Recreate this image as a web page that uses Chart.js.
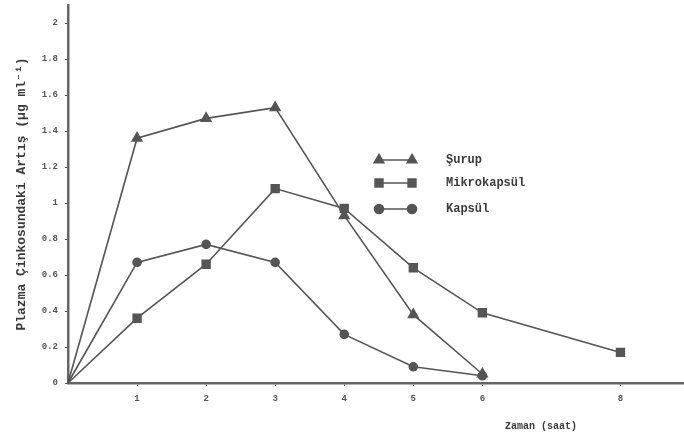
<!DOCTYPE html>
<html>
<head>
<meta charset="utf-8">
<script src="https://cdn.jsdelivr.net/npm/chart.js@4"></script>
<style>
  html, body { margin: 0; padding: 0; background: #ffffff; overflow: hidden; }
  canvas { display: block; }
</style>
</head>
<body>
<canvas id="chart" width="684" height="441"></canvas>
<script>
// ── Data ──────────────────────────────────────────────────────
const hours       = [0, 1, 2, 3, 4, 5, 6, 8];
const surup       = [0, 1.36, 1.47, 1.53, 0.93, 0.38, 0.05];
const mikrokapsul = [0, 0.36, 0.66, 1.08, 0.97, 0.64, 0.39, 0.17];
const kapsul      = [0, 0.67, 0.77, 0.67, 0.27, 0.09, 0.04];

const xTicks      = [1, 2, 3, 4, 5, 6, 8];
const yTicks      = [0, 0.2, 0.4, 0.6, 0.8, 1, 1.2, 1.4, 1.6, 1.8, 2];
const yTickLabels = ['0', '0.2', '0.4', '0.6', '0.8', '1', '1.2', '1.4', '1.6', '1.8', '2'];

const seriesNames = ['Şurup', 'Mikrokapsül', 'Kapsül'];

const INK = '#555555';
const MONO = '"Liberation Mono", "DejaVu Sans Mono", monospace';

const toPoints = (vals) => vals.map((v, i) => ({ x: hours[i], y: v }));

// ── Legend + x title drawn on top ─────────────────────────────
const overlay = {
  id: 'overlay',
  afterDraw(chart) {
    const { ctx } = chart;
    const rows = [
      { y: 160, style: 'triangle', r: 5.5 },
      { y: 183, style: 'rect', r: 5.5 },
      { y: 209, style: 'circle', r: 4.5 },
    ];
    ctx.save();
    rows.forEach((row, i) => {
      ctx.strokeStyle = INK;
      ctx.fillStyle = INK;
      ctx.lineWidth = 1.6;
      ctx.beginPath();
      ctx.moveTo(379, row.y);
      ctx.lineTo(412, row.y);
      ctx.stroke();
      [379, 412].forEach(px => {
        Chart.helpers.drawPoint(ctx, { pointStyle: row.style, radius: row.r, rotation: 0, borderWidth: 1 }, px, row.y);
      });
      ctx.fillStyle = '#3a3a3a';
      ctx.font = `bold 12px ${MONO}`;
      ctx.textBaseline = 'middle';
      ctx.textAlign = 'left';
      ctx.fillText(seriesNames[i], 446, row.y);
    });
    // x axis title
    ctx.fillStyle = '#3a3a3a';
    ctx.font = `bold 10px ${MONO}`;
    ctx.textAlign = 'center';
    ctx.fillText('Zaman (saat)', 541, 426);
    ctx.restore();
  },
};

function dataset(label, vals, style, r) {
  return {
    label,
    data: toPoints(vals),
    borderColor: INK,
    backgroundColor: INK,
    borderWidth: 1.6,
    pointStyle: style,
    // the origin has no marker in the original
    pointRadius: c => (c.dataIndex === 0 ? 0 : r),
    pointHoverRadius: c => (c.dataIndex === 0 ? 0 : r),
    pointBackgroundColor: INK,
    pointBorderColor: INK,
    tension: 0,
    clip: false,
  };
}

new Chart(document.getElementById('chart'), {
  type: 'line',
  data: {
    datasets: [
      dataset('Şurup', surup, 'triangle', 5.5),
      dataset('Mikrokapsül', mikrokapsul, 'rect', 5.5),
      dataset('Kapsül', kapsul, 'circle', 4),
    ],
  },
  options: {
    responsive: false,
    animation: false,
    devicePixelRatio: 1,
    layout: { autoPadding: false, padding: { top: 5, right: 0, left: 0, bottom: 0 } },
    plugins: { legend: { display: false }, tooltip: { enabled: false } },
    scales: {
      x: {
        type: 'linear', min: 0, max: 8.92,
        afterBuildTicks: s => { s.ticks = xTicks.map(v => ({ value: v })); },
        afterFit: s => { s.height = 58; s.paddingLeft = 0; s.paddingRight = 0; },
        ticks: { color: INK, font: { family: MONO, size: 9, weight: 'bold' }, padding: 7, maxRotation: 0 },
        grid: { drawOnChartArea: false, tickLength: 3, color: INK, lineWidth: 1 },
        border: { display: true, color: '#666666', width: 2.5 },
      },
      y: {
        min: 0, max: 2.1,
        afterBuildTicks: s => { s.ticks = yTicks.map(v => ({ value: v })); },
        afterFit: s => { s.width = 68; s.paddingTop = 0; s.paddingBottom = 0; },
        ticks: {
          color: INK, font: { family: MONO, size: 9, weight: 'bold' }, padding: 7,
          callback: (v) => yTickLabels[yTicks.indexOf(v)] ?? '',
        },
        grid: { drawOnChartArea: false, tickLength: 3, color: INK, lineWidth: 1 },
        border: { display: true, color: '#666666', width: 2.5 },
        title: {
          display: true,
          text: 'Plazma Çinkosundaki Artış (µg ml⁻¹)',
          color: '#3a3a3a',
          font: { family: MONO, size: 13, weight: 'bold' },
          padding: { top: 14, bottom: 0 },
        },
      },
    },
  },
  plugins: [overlay],
});
</script>
</body>
</html>
